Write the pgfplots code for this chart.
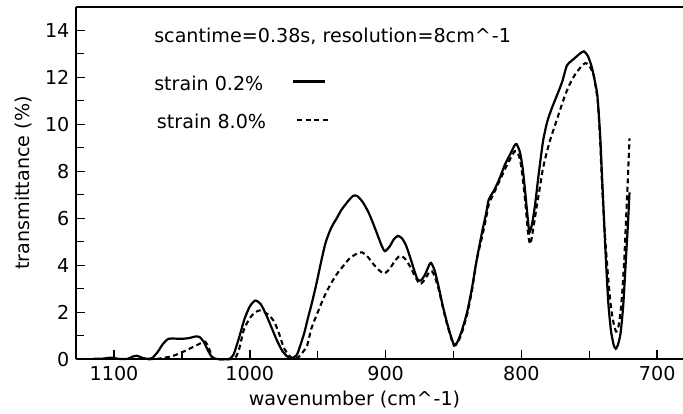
\documentclass[border=0pt]{standalone}
\usepackage{fontspec}
\setmainfont{DejaVu Sans}
\usepackage{pgfplots}
\pgfplotsset{compat=1.18}
\begin{document}
\fontsize{19.2}{22}\selectfont
\begin{tikzpicture}
\begin{axis}[
  scale only axis, width=607bp, height=352.6bp,
  x dir=reverse, xmin=681, xmax=1128, ymin=0, ymax=15,
  xtick={700,800,...,1100}, ytick={0,2,...,14},
  minor x tick num=1, minor y tick num=1,
  tick align=inside, tick pos=left,
  major tick length=9bp, minor tick length=8bp,
  separate axis lines, axis x line*=box, axis y line*=left,
  axis line style={line width=1.8bp},
  every tick/.style={line width=1.4bp, black},
  /pgf/number format/assume math mode=true,
  /pgf/number format/set thousands separator={},
  xlabel={wavenumber (cm\textasciicircum\kern1pt-1)},
  xlabel style={xshift=-25bp, yshift=2bp},
  ylabel={transmittance (\%)},
  clip=false,
]
\addplot[black, line width=2.2bp, smooth, tension=0.4] coordinates {
(1115,0.02)(1108,0.03)(1102,0.07)(1097,0.02)(1090,0.02)(1086,0.12)(1083,0.15)(1080,0.08)(1076,0.02)
(1072,0.05)(1068,0.3)(1064,0.65)(1060,0.87)(1055,0.88)(1050,0.87)(1045,0.9)(1040,0.97)(1037,0.95)
(1034,0.75)(1031,0.4)(1028,0.1)(1025,0.02)(1020,0.0)(1015,0.02)(1012,0.2)(1008,0.9)(1004,1.7)
(1000,2.25)(996,2.5)(992,2.35)(988,1.9)(984,1.35)(980,0.8)(976,0.35)(972,0.1)(969,0.05)(966,0.15)
(964.5,0.3)(960,1.1)(957,1.8)(954.7,2.3)(951,3.2)(947.3,4.2)(944,5.0)(940,5.6)(936,6.0)(932.6,6.35)
(928,6.7)(924,6.95)(921,6.95)(917,6.7)(913,6.3)(910,5.9)(906,5.3)(903,4.85)(900.6,4.6)(897,4.8)
(894,5.1)(891,5.25)(888,5.15)(885,4.85)(882,4.35)(879,3.8)(876.5,3.4)(874,3.35)(871,3.6)(868,4.0)
(866.5,4.1)(864,3.8)(861,3.1)(858,2.3)(855,1.6)(852,1.0)(849.5,0.6)(847,0.75)(844,1.2)(840,2.0)
(836.5,3.0)(833,4.2)(829,5.4)(826,6.2)(824,6.8)(820,7.2)(816,7.7)(812,8.3)(808,8.75)(805,9.1)
(803.5,9.15)(801,8.8)(799,8.1)(797,7.0)(795,5.8)(794,5.4)(792,5.8)(790,6.55)(787,8.0)(784,9.3)
(781,10.1)(777.5,10.7)(774,11.2)(770,11.8)(766.5,12.5)(763,12.7)(760,12.85)(757,13.0)(754,13.1)
(751,12.9)(748,12.4)(745.5,11.7)(744,11.2)(742,9.5)(740,7.0)(738,4.5)(736,2.4)(734,1.2)(732,0.6)
(730.5,0.45)(729,0.6)(727,1.1)(725,2.3)(723,4.3)(721.5,5.8)(720.4,7.1)
};
\addplot[black, line width=2.1bp, dash pattern=on 5bp off 3.5bp, smooth, tension=0.4] coordinates {
(1075,0.0)(1068,0.02)(1062,0.08)(1058,0.12)(1054,0.2)(1050,0.3)(1046,0.4)(1042,0.52)(1038,0.63)
(1035,0.72)(1033,0.75)(1031,0.6)(1029,0.3)(1027,0.05)(1024,0.0)(1016,0.0)(1011,0.05)(1008,0.4)
(1004.4,1.25)(1000,1.75)(996,2.0)(992.6,2.08)(989,2.0)(985.5,1.85)(982,1.6)(978.5,1.1)(975,0.5)
(971,0.15)(967.5,0.02)(964,0.1)(961,0.3)(957.7,0.6)(954.7,1.3)(950,2.0)(944.9,2.7)(940,3.25)
(935,3.7)(930,4.05)(926.4,4.3)(921,4.5)(917.3,4.55)(913,4.35)(909,4.05)(905,3.8)(901,3.65)
(897,3.85)(893,4.2)(889.5,4.4)(886,4.3)(882,3.95)(878,3.5)(874.7,3.2)(871,3.4)(868,3.7)(866,3.75)
(864,3.55)(861,3.0)(858,2.25)(855,1.55)(852,0.95)(849.5,0.58)(847,0.7)(844,1.1)(840,1.9)
(836.5,2.9)(833,4.2)(829,5.2)(826,6.0)(824,6.6)(820,7.1)(816,7.6)(812,8.1)(808,8.55)(805,8.85)
(803,8.8)(801,8.5)(799,7.7)(797,6.6)(795,5.3)(793.5,4.9)(792,5.3)(789,6.4)(787,7.1)(784.5,8.0)
(782.4,8.55)(779,9.3)(775,10.0)(771,10.7)(767.6,11.27)(764,11.75)(760.3,12.13)(756,12.45)
(753,12.6)(750,12.5)(746.7,12.06)(744.5,11.3)(743.5,10.8)(742,9.3)(740.6,7.4)(738.5,5.3)
(736,3.4)(734,2.2)(732,1.5)(730.2,1.18)(728.5,1.4)(727,2.0)(725.8,2.8)(724.2,4.3)(722.9,6.0)
(721.5,7.8)(720.4,9.4)
};
\node[anchor=west, inner sep=0pt] at (axis cs:1070.5,13.72) {scantime=0.38s, resolution=8cm\textasciicircum\kern1pt-1};
\node[anchor=west, inner sep=0pt] at (axis cs:1070.5,11.75) {strain 0.2\%};
\node[anchor=west, inner sep=0pt] at (axis cs:1068.5,10.14) {strain 8.0\%};
\draw[black, line width=2.2bp] (axis cs:968.2,11.82) -- (axis cs:944.4,11.82);
\draw[black, line width=2.1bp, dash pattern=on 5bp off 3.5bp] (axis cs:965.1,10.17) -- (axis cs:941.4,10.17);
\end{axis}
\pgfresetboundingbox
\path (current axis.south west) ++(-76bp,-54.7bp) coordinate (bl);
\path (current axis.north east) ++(0bp,6.7bp) coordinate (tr);
\path (bl) rectangle (tr);
\end{tikzpicture}
\end{document}
